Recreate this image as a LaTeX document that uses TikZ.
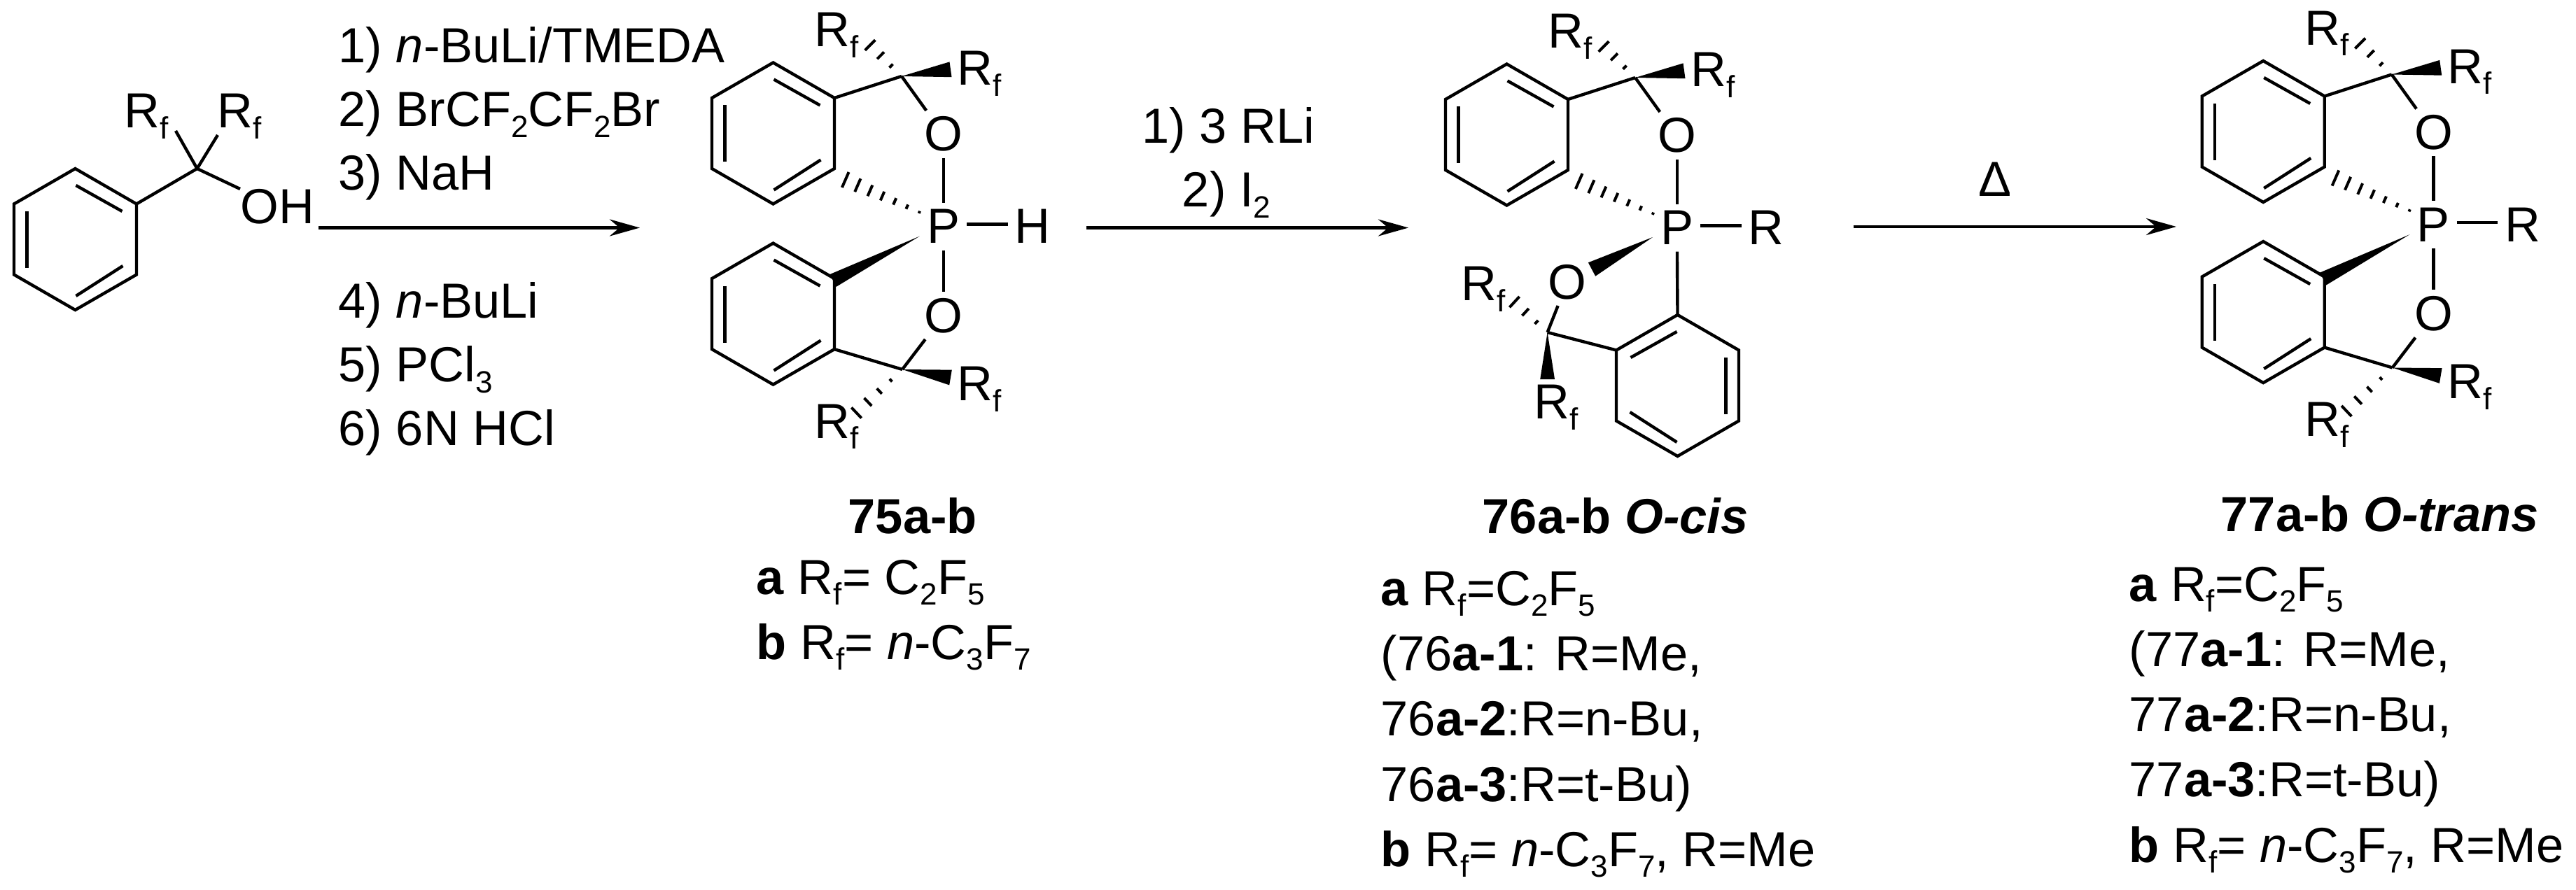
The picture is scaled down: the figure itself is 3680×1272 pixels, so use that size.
\documentclass[tikz,border=0pt]{standalone}
\usepackage{fontspec}
\setmainfont{Liberation Sans}
\usetikzlibrary{arrows.meta}
\usetikzlibrary{calc}

\newcommand{\dn}[1]{\raisebox{-3.9pt}{\fontsize{11pt}{12pt}\selectfont #1}}
\newcommand{\rf}{R\dn{f}}

% six membered ring from its top corner, last argument mirrors it
\newcommand{\benzring}[4]{
	\coordinate (#1a) at (#2,#3);
	\coordinate (#1b) at ({#2+(#4)*87.5},{#3+50.5});
	\coordinate (#1c) at ({#2+(#4)*87.5},{#3+151.5});
	\coordinate (#1d) at (#2,{#3+202});
	\coordinate (#1e) at ({#2-(#4)*87.5},{#3+151.5});
	\coordinate (#1f) at ({#2-(#4)*87.5},{#3+50.5});
	\draw[bond] (#1a) -- (#1b) -- (#1c) -- (#1d) -- (#1e) -- (#1f) -- cycle;
	\draw[bond] ({#2+(#4)*1},{#3+24}) -- ({#2+(#4)*67},{#3+61});
	\draw[bond] ({#2+(#4)*68},{#3+139}) -- ({#2+(#4)*1},{#3+182});
	\draw[bond] ({#2-(#4)*69},{#3+61}) -- ({#2-(#4)*69},{#3+142});
}
\newcommand{\wedgebond}[3]{
	\fill (#1) -- ($(#2)!#3!90:(#1)$) -- ($(#2)!#3!-90:(#1)$) -- cycle;
}
\newcommand{\hashbond}[4]{
	\foreach \hn in {1,...,#3} {
		\pgfmathsetmacro{\hpos}{\hn/#3}
		\pgfmathsetmacro{\hlen}{#4*\hpos}
		\coordinate (hs) at ($(#1)!\hpos!(#2)$);
		\draw[hash] ($(hs)!\hlen pt!90:(#1)$) -- ($(hs)!\hlen pt!-90:(#1)$);
	}
}
\newcommand{\topwing}[2]{
	\benzring{#1r}{1104.5}{89.5}{1}
	\coordinate (#1c) at (1288,109);
	\node[atom] (#1o) at (1347.7,192) {O};
	\node[atom] (#1p) at (1347.7,323.6) {P};
	\node[atom] (#1x) at (1475,323.6) {#2};
	\node[txt] (#1rl) at (1163,66.6) {\rf};
	\node[txt] (#1rr) at (1367,121.7) {\rf};
	\draw[bond] (#1rb) -- (#1c);
	\draw[bond] (#1c) -- (#1o);
	\draw[bond] (#1o) -- (#1p);
	\draw[bond] ([yshift=.8pt]#1p.east) -- ([yshift=.8pt]#1x.west);
	\coordinate (#1e) at (1358,99.3);
	\wedgebond{#1c}{#1e}{2.75pt}
	\coordinate (#1h) at (1243,64.5);
	\hashbond{#1c}{#1h}{3}{2.6}
	\coordinate (#1t) at (1331,311);
	\coordinate (#1u) at (1207.7,257);
	\hashbond{#1t}{#1u}{7}{3}
}
\newcommand{\lowwing}[1]{
	\benzring{#1s}{1104.5}{347.6}{1}
	\coordinate (#1d) at (1289,528);
	\node[atom] (#1q) at (1347.7,451) {O};
	\node[txt] (#1sl) at (1163,626) {\rf};
	\node[txt] (#1sr) at (1367,572.5) {\rf};
	\draw[bond] (#1p) -- (#1q);
	\draw[bond] (#1q) -- (#1d);
	\draw[bond] (#1sc) -- (#1d);
	\coordinate (#1w) at (1313.6,337.7);
	\coordinate (#1v) at (1190,401);
	\wedgebond{#1w}{#1v}{2.5pt}
	\coordinate (#1f) at (1358,539.5);
	\wedgebond{#1d}{#1f}{2.75pt}
	\coordinate (#1g) at (1223.5,590);
	\hashbond{#1d}{#1g}{4}{2.6}
}

\begin{document}
\begin{tikzpicture}[x=0.25pt,y=-0.25pt,
	every node/.style={font=\fontsize{17.6pt}{20pt}\selectfont},
	bond/.style={line width=1.1pt,line join=miter},
	hash/.style={line width=1pt},
	rxn/.style={line width=1.2pt,-{Stealth[length=10.75pt,width=6pt]}},
	atom/.style={inner sep=2.3pt,text height=12pt,text depth=0pt},
	txt/.style={inner sep=0pt,anchor=base west}]
	\useasboundingbox (0,0) rectangle (3680,1272);

	% starting alcohol
	\benzring{s}{107.5}{241}{1}
	\coordinate (c0) at (281.6,241);
	\coordinate (c0l) at (251,187);
	\coordinate (c0r) at (311,193);
	\node[txt] (sl) at (177,183) {\rf};
	\node[txt] (sr) at (310,183) {\rf};
	\node[txt] (oh) at (343,320) {OH};
	\draw[bond] (sb) -- (c0);
	\draw[bond] (c0) -- (c0l);
	\draw[bond] (c0) -- (c0r);
	\draw[bond] (c0) -- (oh.north west);

	% first arrow
	\coordinate (a1s) at (455,325.5);
	\coordinate (a1e) at (914,325.5);
	\draw[rxn] (a1s) -- (a1e);
	\node[txt] (st1) at (483,89.5) {1) \textit{n}-BuLi/TMEDA};
	\node[txt] (st2) at (483,181) {2) BrCF\dn{2}CF\dn{2}Br};
	\node[txt] (st3) at (483,272) {3) NaH};
	\node[txt] (st4) at (483,454.5) {4) \textit{n}-BuLi};
	\node[txt] (st5) at (483,545.5) {5) PCl\dn{3}};
	\node[txt] (st6) at (483,636) {6) 6N HCl};

	% 75
	\topwing{h}{H}
	\lowwing{h}
	\node[txt] (n75) at (1211,762) {\textbf{75a-b}};
	\node[txt] (n75a) at (1080,849) {\textbf{a} \rf= C\dn{2}F\dn{5}};
	\node[txt] (n75b) at (1080,942) {\textbf{b} \rf= \textit{n}-C\dn{3}F\dn{7}};

	% second arrow
	\coordinate (a2s) at (1551.6,325.5);
	\coordinate (a2e) at (2012,325.5);
	\draw[rxn] (a2s) -- (a2e);
	\node[txt,anchor=base] (st7) at (1755,205) {1) 3 RLi};
	\node[txt,anchor=base] (st8) at (1752,296) {2) I\dn{2}};

	% 76
	\begin{scope}[shift={(1048,2)}]
		\topwing{m}{R}
	\end{scope}
	\benzring{mt}{2396.5}{450}{-1}
	\coordinate (mc) at (2210.6,475);
	\node[atom] (mq) at (2239,403) {O};
	\node[txt] (msl) at (2086.6,430) {\rf};
	\node[txt] (msr) at (2191,599) {\rf};
	\draw[bond] (mp) -- (mta);
	\draw[bond] (mq) -- (mc);
	\draw[bond] (mc) -- (mtb);
	\coordinate (mw) at (2361,339);
	\coordinate (mv) at (2274,385);
	\wedgebond{mw}{mv}{2.75pt}
	\coordinate (mf) at (2210.6,542);
	\wedgebond{mc}{mf}{2.6pt}
	\coordinate (mg) at (2163.5,431.6);
	\hashbond{mc}{mg}{3}{2.6}
	\node[txt] (n76) at (2117,762) {\textbf{76a-b \textit{O-cis}}};
	\node[txt] (n76a) at (1972,865) {\textbf{a} \rf=C\dn{2}F\dn{5}};
	\node[txt] (n76b) at (1972,958) {(76\textbf{a-1}: R=Me,};
	\node[txt] (n76c) at (1972,1051) {76\textbf{a-2}:R=n-Bu,};
	\node[txt] (n76d) at (1972,1145) {76\textbf{a-3}:R=t-Bu)};
	\node[txt] (n76e) at (1972,1238) {\textbf{b} \rf= \textit{n}-C\dn{3}F\dn{7}, R=Me};

	% third arrow
	\coordinate (a3s) at (2647.7,324);
	\coordinate (a3e) at (3109,324);
	\draw[rxn] (a3s) -- (a3e);
	\node[txt,anchor=base] (st9) at (2850,281) {Δ};

	% 77
	\begin{scope}[shift={(2128.7,-2.5)}]
		\topwing{t}{R}
		\lowwing{t}
	\end{scope}
	\node[txt] (n77) at (3172,759) {\textbf{77a-b \textit{O-trans}}};
	\node[txt] (n77a) at (3041,859) {\textbf{a} \rf=C\dn{2}F\dn{5}};
	\node[txt] (n77b) at (3041,952.5) {(77\textbf{a-1}: R=Me,};
	\node[txt] (n77c) at (3041,1045) {77\textbf{a-2}:R=n-Bu,};
	\node[txt] (n77d) at (3041,1138.7) {77\textbf{a-3}:R=t-Bu)};
	\node[txt] (n77e) at (3041,1232) {\textbf{b} \rf= \textit{n}-C\dn{3}F\dn{7}, R=Me};
\end{tikzpicture}
\end{document}
